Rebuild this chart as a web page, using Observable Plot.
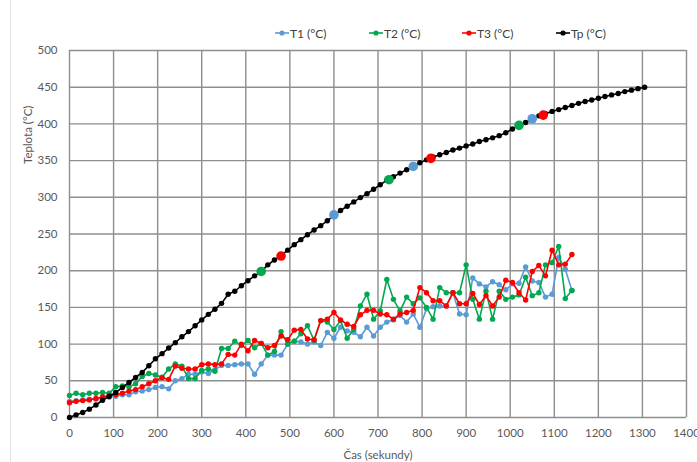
<!DOCTYPE html>
<html>
<head>
<meta charset="utf-8">
<script src="https://cdn.jsdelivr.net/npm/d3@7"></script>
<script src="https://cdn.jsdelivr.net/npm/@observablehq/plot@0.6"></script>
<style>
  html, body { margin: 0; padding: 0; background: #fff; }
  #wrap { position: relative; width: 697px; height: 462px; overflow: hidden; font-family: Lato, "Open Sans", sans-serif; }
  #edge { position: absolute; left: 10px; top: 0; width: 1px; height: 462px; background: #e3e3e3; }
  .li { position: absolute; top: 25px; height: 16px; display: flex; align-items: center; font-size: 12px; color: #404040; white-space: nowrap; }
  .li svg { margin-right: 1px; }
  #chart { position: absolute; left: 0; top: 0; }
</style>
</head>
<body>
<div id="wrap"><div id="edge"></div><div id="chart"></div></div>
<script>
// ---- data ----
const seriesNames = ["T1 (°C)", "T2 (°C)", "T3 (°C)", "Tp (°C)"];
const seriesColors = ["#5B9BD5", "#00A850", "#FF0000", "#000000"];
const xTicks = [0,100,200,300,400,500,600,700,800,900,1000,1100,1200,1300,1400];
const yTicks = [0,50,100,150,200,250,300,350,400,450,500];

// Tp (furnace) time and values
const tpTime = [0,15,30,45,60,75,90,105,120,135,150,165,180,195,210,225,240,255,270,285,
  300,315,330,345,360,375,390,405,420,435,450,465,480,495,510,525,540,555,570,585,
  600,615,630,645,660,675,690,705,720,735,750,765,780,795,810,825,840,855,870,885,
  900,915,930,945,960,975,990,1005,1020,1035,1050,1065,1080,1095,1110,1125,1140,1155,1170,1185,
  1200,1215,1230,1245,1260,1275,1290,1305];
const Tp = [0,3.6,6.8,11.4,17,23.5,28.6,34,41,47.7,
  54.5,61.4,70.5,80,87,94.6,102,110,117,125,
  133,140.5,147.5,155.5,168,172,179.5,186.4,193,198.7,
  208,214.6,220.5,228,235.5,242.3,249,255.5,261.4,268,
  275.5,282,287.8,293.7,299.6,305,311,317,323.5,328,
  333,337.5,341.8,347,351,355,358,361,364.5,367,
  370,372.7,376,378.5,381,384,388,393,398,402,
  406.5,411,414,417,419.5,422.3,425,428,430.5,432.5,
  435,437.3,439.5,441.5,444,446,448,450];

// thermocouple time and values
const tTime = [0,15,30,45,60,75,90,105,120,135,150,165,180,195,210,225,240,255,270,285,
  300,315,330,345,360,375,390,405,420,435,450,465,480,495,510,525,540,555,570,585,
  600,615,630,645,660,675,690,705,720,735,750,765,780,795,810,825,840,855,870,885,
  900,915,930,945,960,975,990,1005,1020,1035,1050,1065,1080,1095,1110,1125,1140];
const T1 = [22,23,24,25,25,27,28,29,31,31,
  35,36,38,41,42,39,50,53,59,59,
  62,60,65,71,71,72,73,73,59,73,
  85,85,85,100,104,103,100,103,98,116,
  108,123,118,116,110,123,111,123,130,133,
  139,130,141,123,148,151,152,152,170,141,
  140,190,182,178,185,181,174,182,183,205,
  186,184,164,168,218,202,173];
const T2 = [30,33,31,33,33,34,33,42,43,42,
  46,56,60,58,55,66,73,70,53,53,
  64,66,63,94,94,104,98,105,95,101,
  85,90,117,100,104,114,125,105,132,130,
  120,132,108,120,152,168,134,145,188,161,
  145,164,155,163,150,134,177,170,170,170,
  208,161,134,172,134,172,161,164,167,191,
  166,170,208,211,233,162,173];
const T3 = [20,22,23,24,26,28,30,31,33,36,
  38,42,46,50,54,52,70,67,66,66,
  72,73,72,73,86,85,100,91,105,101,
  95,98,111,106,119,120,107,106,132,134,
  143,133,127,124,140,146,146,141,140,134,
  141,143,146,177,170,159,159,152,170,155,
  155,169,154,166,152,164,187,184,170,160,
  199,207,193,228,208,209,222];

// highlighted points on the Tp curve
const m1Time = [600, 780, 1050];
const m1Val  = [276, 342, 407];
const m2Time = [435, 725, 1020];
const m2Val  = [199, 324, 398];
const m3Time = [480, 820, 1075];
const m3Val  = [220, 353, 412];

// ---- build ----
const toRows = (xs, ys) => xs.map((x, i) => ({x, y: ys[i]}));
const s1 = toRows(tTime, T1), s2 = toRows(tTime, T2), s3 = toRows(tTime, T3), sp = toRows(tpTime, Tp);
const k1 = toRows(m1Time, m1Val), k2 = toRows(m2Time, m2Val), k3 = toRows(m3Time, m3Val);

const gridStyle = {stroke: "#8e8e8e", strokeOpacity: 1, strokeWidth: 1.4};
const seriesMarks = (rows, color) => [
  Plot.line(rows, {x: "x", y: "y", stroke: color, strokeWidth: 1.6}),
  Plot.dot(rows, {x: "x", y: "y", fill: color, r: 2.7})
];

const chart = Plot.plot({
  width: 697, height: 462,
  marginLeft: 69, marginRight: 11, marginTop: 50, marginBottom: 45,
  style: {fontFamily: "Lato, 'Open Sans', sans-serif", background: "transparent"},
  x: {domain: [0, 1400]},
  y: {domain: [0, 500]},
  marks: [
    Plot.gridX(xTicks, gridStyle),
    Plot.gridY(yTicks, gridStyle),
    Plot.axisX(xTicks, {tickSize: 0, tickPadding: 11, fontSize: 11.5, color: "#595959", label: null, tickFormat: d => String(d)}),
    Plot.axisY(yTicks, {tickSize: 0, tickPadding: 12, fontSize: 11.5, color: "#595959", label: null, tickFormat: d => String(d)}),
    Plot.text(["Čas (sekundy)"], {frameAnchor: "bottom", dy: 41, fontSize: 11.5, fill: "#595959", text: d => d}),
    Plot.text(["Teplota (°C)"], {frameAnchor: "left", dx: -41, dy: -70, rotate: -90, fontSize: 11.5, fill: "#595959", text: d => d}),
    ...seriesMarks(s1, seriesColors[0]),
    ...seriesMarks(s2, seriesColors[1]),
    ...seriesMarks(s3, seriesColors[2]),
    ...seriesMarks(sp, seriesColors[3]),
    Plot.dot(k1, {x: "x", y: "y", fill: seriesColors[0], r: 4.8}),
    Plot.dot(k2, {x: "x", y: "y", fill: seriesColors[1], r: 4.8}),
    Plot.dot(k3, {x: "x", y: "y", fill: seriesColors[2], r: 4.8})
  ]
});
document.getElementById("chart").appendChild(chart);

// legend
const legendLeft = [275, 369, 462, 556];
const wrap = document.getElementById("wrap");
seriesNames.forEach((name, i) => {
  const d = document.createElement("div");
  d.className = "li";
  d.style.left = legendLeft[i] + "px";
  d.innerHTML = `<svg width="14" height="8"><line x1="0" y1="4" x2="14" y2="4" stroke="${seriesColors[i]}" stroke-width="1.6"/><circle cx="7" cy="4" r="2.6" fill="${seriesColors[i]}"/></svg><span>${name}</span>`;
  wrap.appendChild(d);
});
</script>
</body>
</html>
